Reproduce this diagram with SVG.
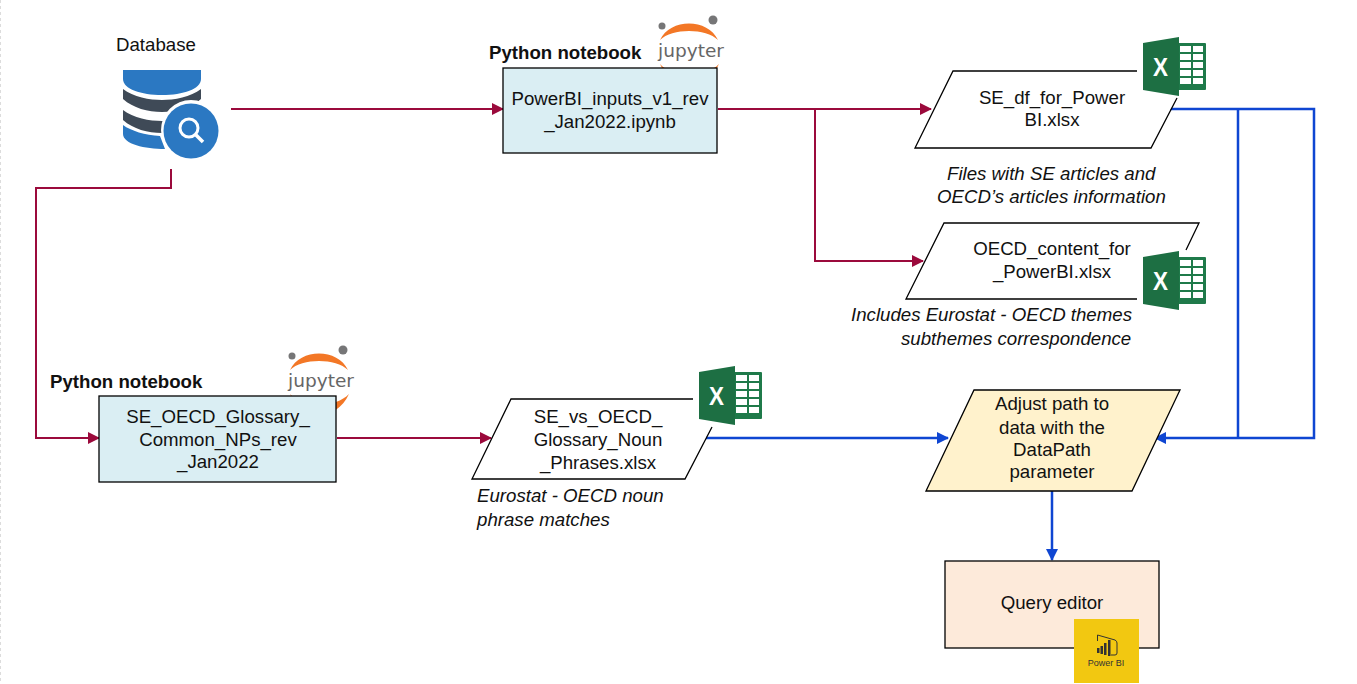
<svg xmlns="http://www.w3.org/2000/svg" width="1357" height="684" viewBox="0 0 1357 684">
<style>
text{font-family:"Liberation Sans",Arial,sans-serif;font-size:18.67px;fill:#111}
.c{text-anchor:middle}
.b{font-weight:bold}
.i{font-style:italic}
.box{stroke:#000;stroke-width:1.3}
.pl{fill:#fff;stroke:none}
.ln{fill:none;stroke:#000;stroke-width:1.3}
.red{fill:none;stroke:#9b0a3c;stroke-width:2;marker-end:url(#ar)}
.blu{fill:none;stroke:#0f46d2;stroke-width:2.500;marker-end:url(#ab)}
.blu0{fill:none;stroke:#0f46d2;stroke-width:2.500}
.jt{font-family:"DejaVu Sans",sans-serif;font-size:18.500px;fill:#666}
.xl{font-family:"Liberation Sans",sans-serif;font-size:26.500px;font-weight:bold;fill:#fff}
</style>
<defs>
<marker id="ar" markerWidth="12" markerHeight="12" refX="11" refY="6" orient="auto" markerUnits="userSpaceOnUse"><path d="M0 0L12 6L0 12z" fill="#9b0a3c"/></marker>
<marker id="ab" markerWidth="12" markerHeight="12" refX="11" refY="6" orient="auto" markerUnits="userSpaceOnUse"><path d="M0 0L12 6L0 12z" fill="#0f46d2"/></marker>
<g id="excel">
<rect x="34" y="6" width="29" height="47" rx="1" fill="#1f7a4a"/>
<g fill="#fff"><rect x="37" y="9" width="11" height="6"/><rect x="50" y="9" width="10" height="6"/><rect x="37" y="17" width="11" height="6"/><rect x="50" y="17" width="10" height="6"/><rect x="37" y="25" width="11" height="6"/><rect x="50" y="25" width="10" height="6"/><rect x="37" y="33" width="11" height="6"/><rect x="50" y="33" width="10" height="6"/><rect x="37" y="41" width="11" height="6"/><rect x="50" y="41" width="10" height="6"/></g>
<path d="M0 6L36 0V59L0 53z" fill="#1d6f43"/>
<text class="xl" x="10" y="39" textLength="15" lengthAdjust="spacingAndGlyphs">X</text>
</g>
<g id="jup">
<path d="M660 40C670 18 708 18 718 40C706 28 672 28 660 40z" fill="#f37726"/>
<path d="M660 64C672 92 706 92 719 64C706 78 672 78 660 64z" fill="#f37726"/>
<circle cx="662" cy="26" r="3.500" fill="#767677"/>
<circle cx="713" cy="20" r="4.500" fill="#767677"/>
<text class="jt" x="658" y="57" textLength="66" lengthAdjust="spacingAndGlyphs">jupyter</text>
</g>
</defs>
<rect width="1357" height="684" fill="#fff"/>
<path d="M0.500 0V684" stroke="#dcdcdc" stroke-dasharray="3 3" fill="none"/>

<g id="connectors">
<path class="red" d="M231 109H503"/>
<path class="red" d="M718 109H931"/>
<path class="red" d="M815 109V261H923"/>
<path class="red" d="M171 169V188H36V438H99"/>
<path class="red" d="M337 438H491"/>
<path class="blu" d="M706 438H948"/>
<path class="blu0" d="M1170 109H1314V438H1238"/>
<path class="blu0" d="M1238 109V438"/>
<path class="blu" d="M1238 438H1155"/>
<path class="blu" d="M1052 491V560"/>
</g>

<g id="database">
<text x="116" y="51">Database</text>
<path d="M123 70H201V79C201 89 183 95 162 95C141 95 123 89 123 79z" fill="#2b78c2"/>
<path d="M123 89C133 97 150 100 162 100C174 100 191 97 201 89V99C191 108 176 112 162 112C148 112 133 108 123 99z" fill="#3f4a57"/>
<path d="M123 110C133 118 150 121 162 121C170 121 178 120 185 118L172 132C168 133 165 133 162 133C148 133 133 129 123 120z" fill="#3f4a57"/>
<path d="M123 125C131 131 145 135 160 136L165 149C145 149 123 144 123 134z" fill="#2b78c2"/>
<circle cx="191" cy="130" r="30" fill="#fff"/>
<circle cx="191" cy="131" r="27.500" fill="#2b78c2"/>
<circle cx="189" cy="128" r="9" fill="none" stroke="#fff" stroke-width="3"/>
<path d="M196 135L203 142" stroke="#fff" stroke-width="3.500" fill="none"/>
</g>

<g id="nb1">
<text class="b" x="489" y="59">Python notebook</text>
<use href="#jup"/>
<rect class="box" x="503" y="68" width="214" height="85" fill="#daeef3"/>
<text class="c" x="610" y="105">PowerBI_inputs_v1_rev</text>
<text class="c" x="610" y="128">_Jan2022.ipynb</text>
</g>

<g id="nb2">
<text class="b" x="50" y="388">Python notebook</text>
<use href="#jup" x="-370" y="330"/>
<rect class="box" x="99" y="396" width="237" height="86" fill="#daeef3"/>
<text class="c" x="218" y="423">SE_OECD_Glossary_</text>
<text class="c" x="218" y="446">Common_NPs_rev</text>
<text class="c" x="218" y="468">_Jan2022</text>
</g>

<g id="file1">
<path class="pl" d="M953 71H1190L1151 148H915z"/>
<path class="ln" d="M1137 71H953L915 148H1151L1177 98"/>
<text class="c" x="1052" y="104">SE_df_for_Power</text>
<text class="c" x="1052" y="126">BI.xlsx</text>
<use href="#excel" x="1143" y="37"/>
<text class="i" x="947" y="180">Files with SE articles and</text>
<text class="i" x="937" y="203">OECD’s articles information</text>
</g>

<g id="file2">
<path class="pl" d="M944 223H1199L1160 299H906z"/>
<path class="ln" d="M1186 250L1199 223H944L906 299H1137"/>
<text class="c" x="1052" y="255">OECD_content_for</text>
<text class="c" x="1052" y="278">_PowerBI.xlsx</text>
<use href="#excel" x="1143" y="251"/>
<text class="i" x="851" y="321">Includes Eurostat - OECD themes</text>
<text class="i" x="901" y="345">subthemes correspondence</text>
</g>

<g id="file3">
<path class="pl" d="M511 399H693L685 479H472z"/>
<path class="ln" d="M693 399H511L472 479H685L712 427"/>
<text class="c" x="598" y="423">SE_vs_OECD_</text>
<text class="c" x="598" y="446">Glossary_Noun</text>
<text class="c" x="598" y="469">_Phrases.xlsx</text>
<use href="#excel" x="699" y="366"/>
<text class="i" x="477" y="502">Eurostat - OECD noun</text>
<text class="i" x="477" y="526">phrase matches</text>
</g>

<g id="adjust">
<path class="box" d="M974 390H1180L1132 491H926z" fill="#fff2cc"/>
<text class="c" x="1052" y="410">Adjust path to</text>
<text class="c" x="1052" y="434">data with the</text>
<text class="c" x="1052" y="456">DataPath</text>
<text class="c" x="1052" y="478">parameter</text>
</g>

<g id="query">
<rect class="box" x="945" y="561" width="214" height="87" fill="#fdeada"/>
<text class="c" x="1052" y="609">Query editor</text>
<rect x="1074" y="619" width="65" height="64" fill="#f2c811"/>
<path d="M1097.500 641V635L1115 640Q1117 641 1117 643V653Q1117 655 1115 655H1111" fill="none" stroke="#333" stroke-width="1"/>
<g fill="#333"><rect x="1097" y="648" width="2.500" height="5"/><rect x="1100.500" y="646" width="2.500" height="8"/><rect x="1104" y="643" width="2.500" height="12"/><rect x="1108" y="640" width="2.500" height="16"/></g>
<text class="c" x="1106" y="666" style="font-size:9px;fill:#333">Power BI</text>
</g>
</svg>
